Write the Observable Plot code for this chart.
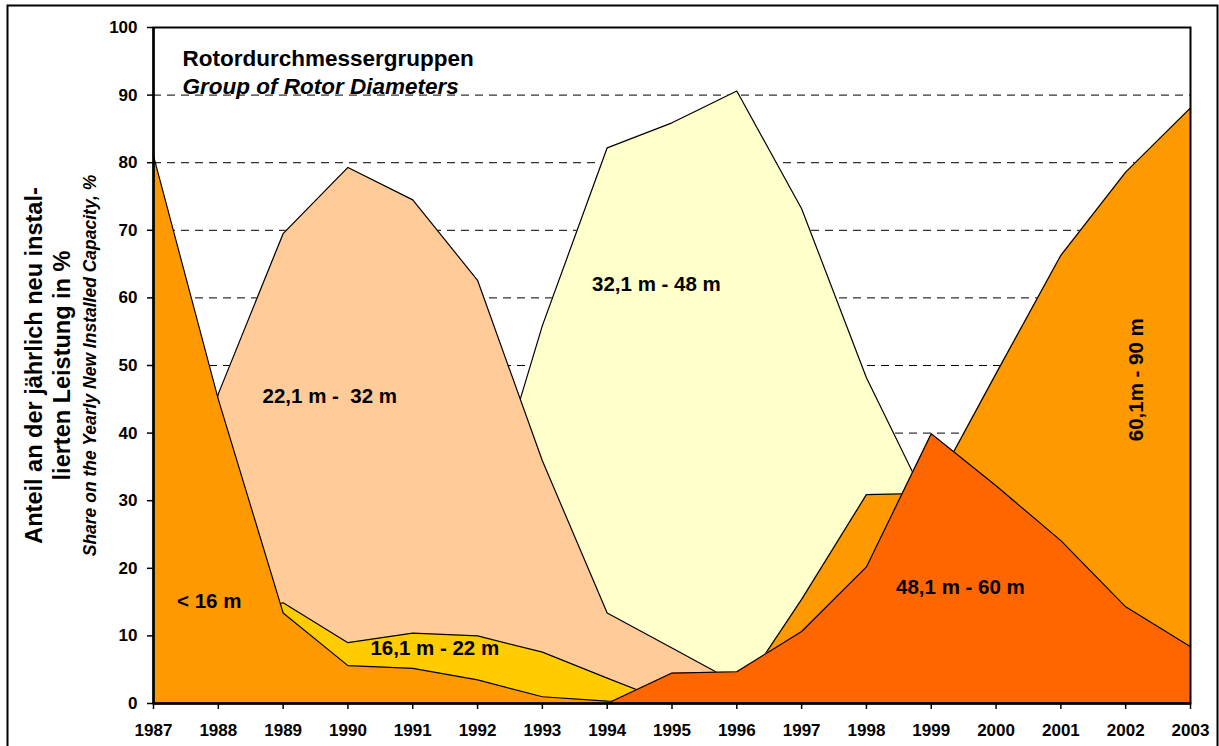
<!DOCTYPE html>
<html>
<head>
<meta charset="utf-8">
<script src="https://cdn.jsdelivr.net/npm/d3@7"></script>
<script src="https://cdn.jsdelivr.net/npm/@observablehq/plot@0.6"></script>
<style>
  html, body { margin: 0; padding: 0; background: #fff; }
  #chart { width: 1219px; height: 746px; }
</style>
</head>
<body>
<div id="chart"></div>
<script>
// ---- data (share of yearly newly installed capacity, %) ----
const years = [1987, 1988, 1989, 1990, 1991, 1992, 1993, 1994, 1995, 1996, 1997, 1998, 1999, 2000, 2001, 2002, 2003];
const lt16   = [81, 45, 13.4, 5.6, 5.2, 3.5, 1.0, 0.35, 0, 0, 0, 0, 0, 0, 0, 0, 0];
const s16to22 = [5, 12, 14.9, 9.0, 10.4, 10.0, 7.6, 3.75, 0, 0, 0, 0, 0, 0, 0, 0, 0];
const s22to32 = [0, 45.8, 69.5, 79.3, 74.5, 62.6, 35.9, 13.4, 8.2, 3.0, 0, 0, 0, 0, 0, 0, 0];
const s32to48 = [0, 2, 5, 9, 15, 24, 55.9, 82.2, 85.9, 90.6, 73.2, 48.2, 28.6, 15, 8, 5, 3];
const s48to60 = [0, 0, 0, 0, 0, 0, 0, 0, 4.5, 4.7, 10.65, 20.2, 39.9, 32.2, 24.1, 14.3, 8.4];
const s60to90 = [0, 0, 0, 0, 0, 0, 0, 0, 0, 1.0, 15.4, 30.9, 31.1, 48.8, 66.3, 78.6, 88.1];

const seriesNames  = ["< 16 m", "16,1 m - 22 m", "22,1 m -\u00a0 32 m", "32,1 m - 48 m", "48,1 m - 60 m", "60,1m - 90 m"];
const seriesColors = ["#FF9900", "#FFCC00", "#FFCC99", "#FFFFCC", "#FF6600", "#FF9900"];
const seriesValues = [lt16, s16to22, s22to32, s32to48, s48to60, s60to90];
// back-to-front drawing order (indices into the series arrays)
const drawOrder = [3, 2, 5, 1, 0, 4];

const yTicks = [0, 10, 20, 30, 40, 50, 60, 70, 80, 90, 100];
const gridValues = [10, 20, 30, 40, 50, 60, 70, 80, 90];

// label anchors (data space) for the series names
const labelYear  = [1987.86, 1991.34, 1989.72, 1994.76, 1999.45];
const labelValue = [15.1, 8.1, 45.4, 62.0, 17.2];
const rotLabelYear = 2002.16;
const rotLabelValue = 47.9;

const titleDe = "Rotordurchmessergruppen";
const titleEn = "Group of Rotor Diameters";
const yTitle1 = "Anteil an der jährlich neu instal-";
const yTitle2 = "lierten Leistung in %";
const yTitle3 = "Share on the Yearly New Installed Capacity, %";

const FONT = "'Liberation Sans', Arial, Helvetica, sans-serif";

const layerMarks = drawOrder.flatMap(i => {
  const data = years.map((x, k) => ({x, y: seriesValues[i][k]}));
  return [
    Plot.areaY(data, {x: "x", y: "y", fill: seriesColors[i], curve: "linear"}),
    Plot.lineY(data, {x: "x", y: "y", stroke: "black", strokeWidth: 1.2, curve: "linear"})
  ];
});

const labels = labelYear.map((x, i) => ({x, y: labelValue[i], text: seriesNames[i]}));

const chart = Plot.plot({
  width: 1219,
  height: 746,
  marginLeft: 153,
  marginRight: 29,
  marginTop: 27,
  marginBottom: 43,
  style: {fontFamily: FONT, background: "white", overflow: "visible"},
  x: {domain: [1987, 2003], axis: null},
  y: {domain: [0, 100], axis: null},
  marks: [
    Plot.ruleY(gridValues, {stroke: "black", strokeWidth: 1, strokeDasharray: "8,6"}),
    ...layerMarks,
    Plot.frame({stroke: "black", strokeWidth: 2}),
    Plot.ruleX([1987], {stroke: "black", strokeWidth: 2.5}),
    Plot.ruleY([0], {stroke: "black", strokeWidth: 2.5}),
    Plot.axisY({ticks: yTicks, tickSize: 6, tickPadding: 10, tickFormat: d => String(d),
      fontSize: 17, fontWeight: "bold", fontFamily: FONT, fill: "black", stroke: "black", strokeWidth: 1.5, label: null}),
    Plot.axisX({ticks: years, tickSize: 6, tickPadding: 14, tickFormat: d => String(d),
      fontSize: 17, fontWeight: "bold", fontFamily: FONT, fill: "black", stroke: "black", strokeWidth: 1.5, label: null}),
    Plot.text(labels, {x: "x", y: "y", text: "text", fontSize: 20.5, fontWeight: "bold", fontFamily: FONT, fill: "black"}),
    Plot.text([seriesNames[5]], {x: () => rotLabelYear, y: () => rotLabelValue, text: d => d, rotate: -90,
      fontSize: 20.5, fontWeight: "bold", fontFamily: FONT, fill: "black"}),
    Plot.text([titleDe], {frameAnchor: "top-left", dx: 29, dy: 23, textAnchor: "start",
      fontSize: 22.5, fontWeight: "bold", fontFamily: FONT, fill: "black"}),
    Plot.text([titleEn], {frameAnchor: "top-left", dx: 29, dy: 51, textAnchor: "start",
      fontSize: 22.5, fontWeight: "bold", fontStyle: "italic", fontFamily: FONT, fill: "black"}),
    Plot.text([yTitle1], {frameAnchor: "left", dx: -119, rotate: -90, textAnchor: "middle", lineAnchor: "middle",
      fontSize: 23.5, fontWeight: "bold", fontFamily: FONT, fill: "black"}),
    Plot.text([yTitle2], {frameAnchor: "left", dx: -91, rotate: -90, textAnchor: "middle", lineAnchor: "middle",
      fontSize: 23.5, fontWeight: "bold", fontFamily: FONT, fill: "black"}),
    Plot.text([yTitle3], {frameAnchor: "left", dx: -63, rotate: -90, textAnchor: "middle", lineAnchor: "middle",
      fontSize: 17.5, fontWeight: "bold", fontStyle: "italic", fontFamily: FONT, fill: "black"})
  ]
});

// outer chart border (decoration)
d3.select(chart).append("rect")
  .attr("x", 7.5).attr("y", 5.5).attr("width", 1210).attr("height", 760)
  .attr("fill", "none").attr("stroke", "black").attr("stroke-width", 2);

document.getElementById("chart").appendChild(chart);
</script>
</body>
</html>
